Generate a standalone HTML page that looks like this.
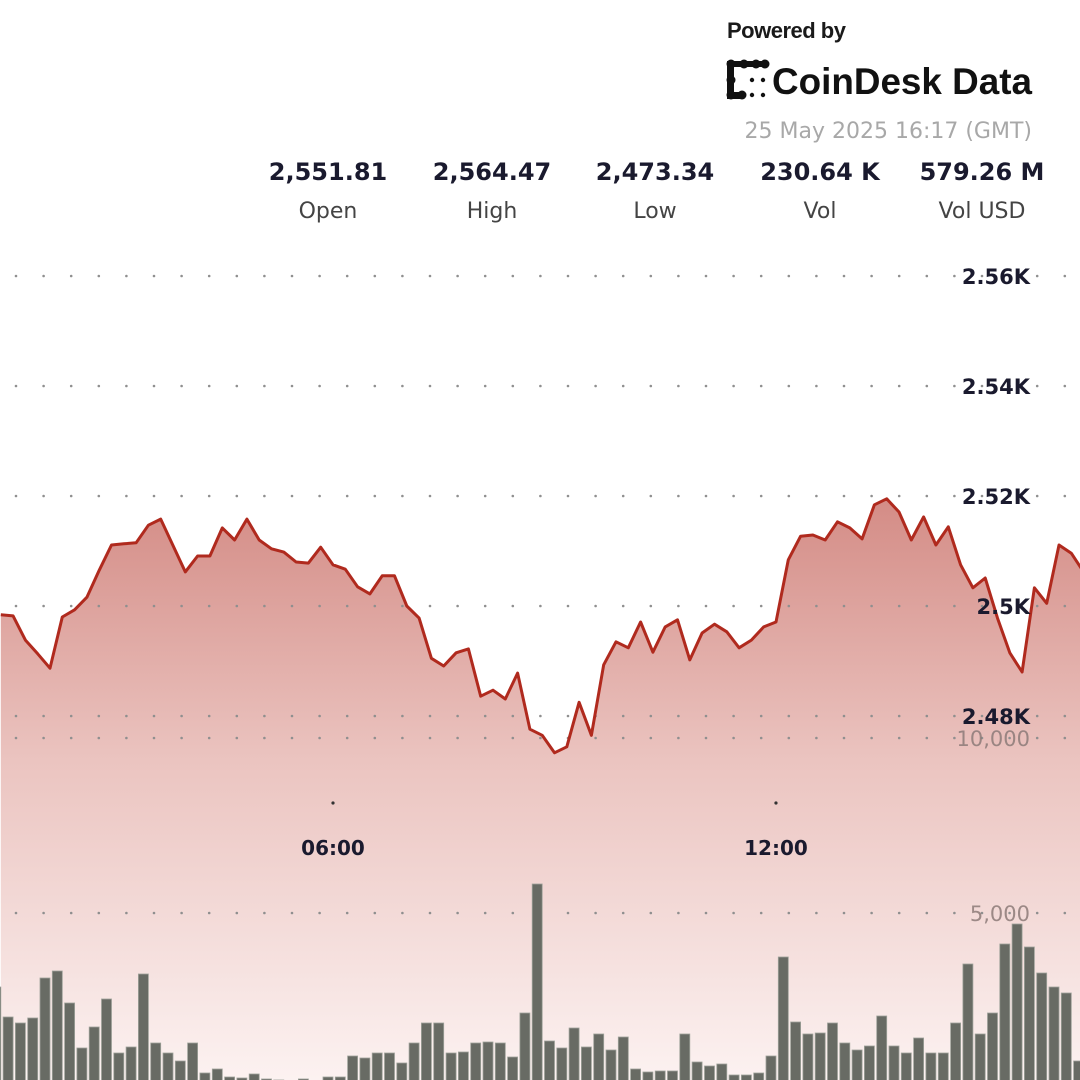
<!DOCTYPE html>
<html><head><meta charset="utf-8"><style>
html,body{margin:0;padding:0;background:#fff;}
svg{display:block;}
text{font-family:"DejaVu Sans","Liberation Sans",sans-serif;}
</style></head>
<body>
<svg id="chart" width="1080" height="1080" viewBox="0 0 1080 1080" xmlns="http://www.w3.org/2000/svg">
<defs>
<linearGradient id="areaGrad" gradientUnits="userSpaceOnUse" x1="0" y1="500" x2="0" y2="1080">
<stop offset="0" stop-color="#d48c86"/>
<stop offset="0.45" stop-color="#ebc4c0"/>
<stop offset="1" stop-color="#fcf2f1"/>
</linearGradient>
</defs>
<path id="area" fill="url(#areaGrad)" d=""/>
<g id="grid"></g>
<g id="bars"></g>
<path id="line" fill="none" stroke="#b02a1e" stroke-width="3" stroke-linejoin="round" d=""/>
<g id="axes"></g>

<g>
<text x="727" y="38" font-size="22" font-weight="bold" fill="#1a1a1a" style="font-family:'Liberation Sans',sans-serif" letter-spacing="-0.5">Powered by</text>
<g fill="#111">
<rect x="727" y="61" width="7" height="38"/><rect x="727" y="61" width="40" height="6"/><rect x="727" y="92" width="14" height="7"/>
<circle cx="731" cy="64" r="4.5"/><circle cx="744" cy="64" r="4.5"/><circle cx="756" cy="64" r="4.5"/><circle cx="765" cy="64" r="4.5"/>
<circle cx="731" cy="80" r="4.5"/><circle cx="731" cy="95" r="4.5"/><circle cx="742" cy="95" r="4.5"/>
<circle cx="752" cy="80" r="2.2"/><circle cx="763" cy="80" r="2.2"/><circle cx="752" cy="95" r="2.2"/><circle cx="763" cy="95" r="2.2"/>
</g>
<text x="772" y="94" font-size="37" font-weight="bold" fill="#111" style="font-family:'Liberation Sans',sans-serif" textLength="260" lengthAdjust="spacingAndGlyphs">CoinDesk Data</text>
<text x="1032" y="138" font-size="22" fill="#a8a8a8" text-anchor="end">25 May 2025 16:17 (GMT)</text>
</g>
<g>
<text x="328" y="180" font-size="24" font-weight="bold" fill="#1a1a2e" text-anchor="middle">2,551.81</text>
<text x="328" y="218" font-size="22" fill="#444" text-anchor="middle">Open</text>
<text x="492" y="180" font-size="24" font-weight="bold" fill="#1a1a2e" text-anchor="middle">2,564.47</text>
<text x="492" y="218" font-size="22" fill="#444" text-anchor="middle">High</text>
<text x="655" y="180" font-size="24" font-weight="bold" fill="#1a1a2e" text-anchor="middle">2,473.34</text>
<text x="655" y="218" font-size="22" fill="#444" text-anchor="middle">Low</text>
<text x="820" y="180" font-size="24" font-weight="bold" fill="#1a1a2e" text-anchor="middle">230.64 K</text>
<text x="820" y="218" font-size="22" fill="#444" text-anchor="middle">Vol</text>
<text x="982" y="180" font-size="24" font-weight="bold" fill="#1a1a2e" text-anchor="middle">579.26 M</text>
<text x="982" y="218" font-size="22" fill="#444" text-anchor="middle">Vol USD</text>
</g>
</svg>
<script>
// minutes since midnight (10-minute candles)
const times = [90,100,110,120,130,140,150,160,170,180,190,200,210,220,230,240,250,260,270,280,290,300,310,320,330,340,350,360,370,380,390,400,410,420,430,440,450,460,470,480,490,500,510,520,530,540,550,560,570,580,590,600,610,620,630,640,650,660,670,680,690,700,710,720,730,740,750,760,770,780,790,800,810,820,830,840,850,860,870,880,890,900,910,920,930,940,950,960,970];
const prices = [2498.4,2498.2,2493.8,2491.3,2488.7,2498.0,2499.3,2501.6,2506.5,2511.1,2511.3,2511.5,2514.7,2515.8,2511.0,2506.2,2509.1,2509.1,2514.2,2512.0,2515.8,2512.0,2510.4,2509.8,2508.0,2507.8,2510.7,2507.5,2506.7,2503.5,2502.2,2505.5,2505.5,2500.0,2497.8,2490.5,2489.1,2491.5,2492.2,2483.6,2484.7,2483.1,2487.8,2477.6,2476.5,2473.3,2474.4,2482.5,2476.5,2489.3,2493.5,2492.4,2497.1,2491.6,2496.2,2497.5,2490.2,2495.1,2496.7,2495.3,2492.4,2493.8,2496.2,2497.1,2508.4,2512.7,2512.9,2512.0,2515.3,2514.2,2512.2,2518.4,2519.5,2517.1,2512.0,2516.2,2511.1,2514.4,2507.5,2503.3,2505.1,2497.8,2491.5,2488.0,2503.3,2500.5,2511.1,2509.6,2506.2];
const volumes = [2886,2029,1857,2000,3143,3343,2429,1143,1743,2543,1000,1171,3257,1286,1000,771,1286,429,543,314,286,400,257,229,143,257,143,314,314,914,857,1000,1000,714,1286,1857,1857,1000,1029,1286,1314,1286,886,2143,5829,1343,1143,1714,1171,1543,1086,1457,543,457,486,486,1543,743,629,686,371,371,429,914,3743,1886,1543,1571,1857,1286,1086,1200,2057,1200,1000,1429,1000,1000,1857,3543,1543,2143,4114,4686,4029,3286,2886,2714,771];
const priceTicks = [2480,2500,2520,2540,2560];
const priceTickLabels = ["2.48K","2.5K","2.52K","2.54K","2.56K"];
const volTicks = [5000,10000];
const volTickLabels = ["5,000","10,000"];
const timeTicks = [360,720];
const timeTickLabels = ["06:00","12:00"];

const NS = "http://www.w3.org/2000/svg";
function xScale(m){ return 333 + (m - 360) * 1.2305; }
function yPrice(p){ return 606 - (p - 2500) * 5.5; }
function yVol(v){ return 1088 - v * 0.035; }
function mk(tag, attrs, parent){
  const e = document.createElementNS(NS, tag);
  for (const k in attrs) e.setAttribute(k, attrs[k]);
  parent.appendChild(e);
  return e;
}
const grid = document.getElementById('grid');
const axes = document.getElementById('axes');
const gridYs = priceTicks.map(yPrice).concat(volTicks.map(yVol));
gridYs.forEach(function(gy){
  for (let x = 16; x < 1080; x += 27.6) {
    const d = mk('circle', {cx: x.toFixed(1), cy: gy, r: 1.3, fill: '#8f8f8f'}, grid);
    
    
  }
});
let lp = '';
times.forEach(function(t, i){ lp += (i ? 'L' : 'M') + xScale(t).toFixed(1) + ',' + yPrice(prices[i]).toFixed(1); });
document.getElementById('line').setAttribute('d', lp);
document.getElementById('area').setAttribute('d', lp + 'L' + xScale(times[times.length-1]).toFixed(1) + ',1080L' + xScale(times[0]).toFixed(1) + ',1080Z');
const bars = document.getElementById('bars');
times.forEach(function(t, i){
  const cx = xScale(t) - 5;
  const top = yVol(volumes[i]);
  const b = mk('rect', {x: (cx - 5).toFixed(1), y: top.toFixed(1), width: 10, height: (1080 - top + 10).toFixed(1), fill: '#686b64', stroke: '#9ea29a', 'stroke-width': 0.8}, bars);
  
  
});
priceTicks.forEach(function(p, i){
  const t = mk('text', {x: 1030, y: yPrice(p) + 8, 'font-size': 21, 'font-weight': 'bold', fill: '#1a1a2e', 'text-anchor': 'end'}, axes);
  t.textContent = priceTickLabels[i];
  
  
});
volTicks.forEach(function(v, i){
  const t = mk('text', {x: 1030, y: yVol(v) + 8, 'font-size': 21, fill: '#8c7a78', 'fill-opacity': 0.85, 'text-anchor': 'end'}, axes);
  t.textContent = volTickLabels[i];
  
  
});
timeTicks.forEach(function(m, i){
  const d = mk('circle', {cx: xScale(m), cy: 803, r: 1.6, fill: '#333'}, axes);
  
  
  const t = mk('text', {x: xScale(m), y: 855, 'font-size': 20, 'font-weight': 'bold', fill: '#1a1a2e', 'text-anchor': 'middle'}, axes);
  t.textContent = timeTickLabels[i];
  
  
});
</script>
</body></html>
